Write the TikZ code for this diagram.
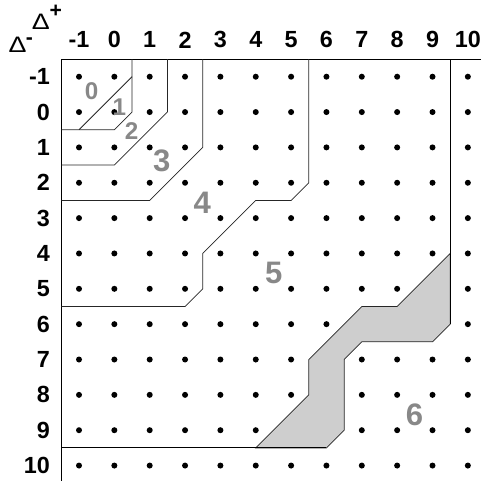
\documentclass[tikz,border=0pt]{standalone}
\usepackage{fontspec}
\setmainfont{Liberation Sans}
\definecolor{lblgray}{RGB}{136,136,136}
\definecolor{bandgray}{RGB}{206,206,206}
\begin{document}
\begin{tikzpicture}[x=1cm,y=1cm,
  axlbl/.style={font=\fontsize{18.8}{20}\selectfont\bfseries, inner sep=0pt},
  smlbl/.style={font=\fontsize{19.5}{21}\selectfont\bfseries, text=lblgray, inner sep=0pt},
  biglbl/.style={font=\fontsize{25}{27}\selectfont\bfseries, text=lblgray, inner sep=0pt},
  dlt/.style={font=\fontsize{18}{20}\selectfont, inner sep=0pt},
  sgn/.style={font=\fontsize{17}{19}\selectfont\bfseries, inner sep=0pt},
  frameline/.style={draw=black, line width=0.8pt},
  regline/.style={draw=black!85, line width=0.6pt, line join=miter},
  dot/.style={fill=black}]
\useasboundingbox (-3.235,-10.437) rectangle (10.372,3.170);
% dots
\foreach \c in {-1,...,10}{
  \foreach \r in {-1,...,10}{
    \fill[dot] (\c,-\r) circle (0.085);
  }
}
% shaded band
\filldraw[regline, fill=bandgray] (9.5,-4) -- (8,-5.5) -- (7,-5.5) -- (5.5,-7) -- (5.5,-8) -- (4,-9.5)
  -- (6,-9.5) -- (6.5,-9) -- (6.5,-7) -- (7,-6.5) -- (9,-6.5) -- (9.5,-6) -- cycle;
% frame
\coordinate (corner) at (-1.5,1.5);
\coordinate (topend) at (10.372,1.5);
\coordinate (leftend) at (-1.5,-10.437);
\draw[frameline] (topend) -- (corner) -- (leftend);
% region boundaries
\draw[regline] (-1,-0.5) -- (0.5,1);
\draw[regline] (0.5,1.5) -- (0.5,0) -- (0,-0.5) -- (-1.5,-0.5);
\draw[regline] (1.5,1.5) -- (1.5,0) -- (0,-1.5) -- (-1.5,-1.5);
\draw[regline] (2.5,1.5) -- (2.5,-1) -- (1,-2.5) -- (-1.5,-2.5);
\draw[regline] (5.5,1.5) -- (5.5,-2) -- (5,-2.5) -- (4,-2.5) -- (2.5,-4) -- (2.5,-5) -- (2,-5.5) -- (-1.5,-5.5);
\draw[frameline] (9.5,1.5) -- (9.5,-6);
\draw[frameline] (-1.5,-9.5) -- (6,-9.5);
% column labels
\foreach \c in {-1,...,10}{
  \node[axlbl] (col\c) at (\c,2.04) {\c};
}
% row labels
\foreach \r in {-1,...,10}{
  \node[axlbl, anchor=east] (row\r) at (-1.82,-\r) {\r};
}
% delta labels
\node[dlt] (dplus) at (-2.08,2.567) {\scalebox{1.2}[1]{Δ}};
\node[sgn] (dplussign) at (-1.656,2.864) {+};
\node[dlt] (dminus) at (-2.74,1.897) {\scalebox{1.2}[1]{Δ}};
\node[sgn] (dminussign) at (-2.40,2.02) {-};
% region numbers
\node[smlbl] (r0) at (-0.64,0.60) {0};
\node[smlbl] (r1) at (0.14,0.13) {1};
\node[smlbl] (r2) at (0.49,-0.53) {2};
\node[biglbl] (r3) at (1.34,-1.38) {3};
\node[biglbl] (r4) at (2.49,-2.58) {4};
\node[biglbl] (r5) at (4.51,-4.55) {5};
\node[biglbl] (r6) at (8.49,-8.56) {6};
\end{tikzpicture}
\end{document}
